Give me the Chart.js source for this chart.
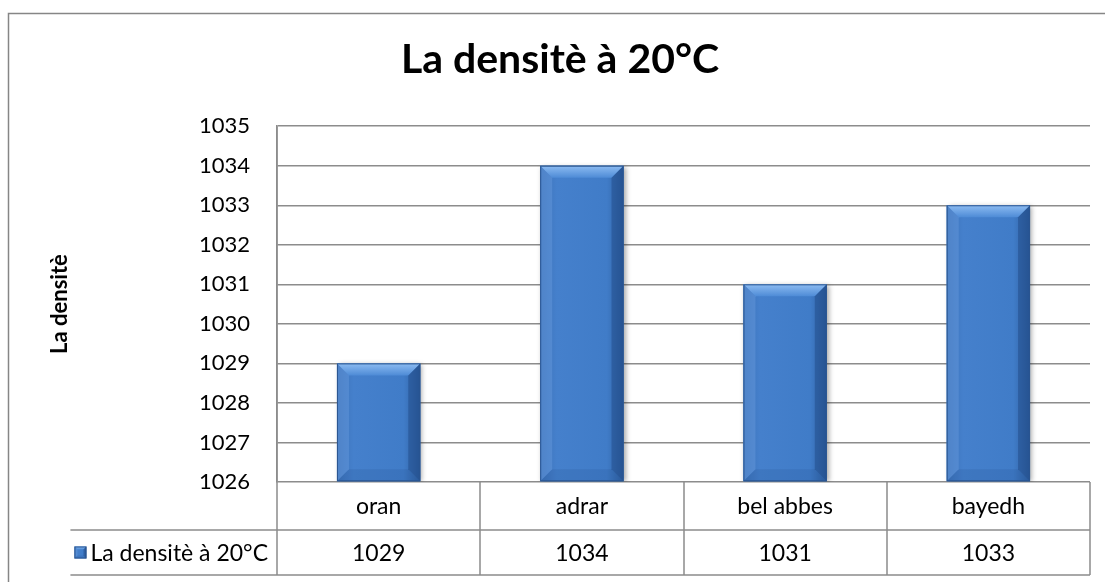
<!DOCTYPE html>
<html>
<head>
<meta charset="utf-8">
<script src="https://cdn.jsdelivr.net/npm/chart.js@4.4.0/dist/chart.umd.min.js"></script>
<style>
  html, body { margin: 0; padding: 0; background: #fff; }
  #wrap { width: 1105px; height: 582px; position: relative; }
</style>
</head>
<body>
<div id="wrap"><canvas id="chart" width="1105" height="582"></canvas></div>
<script>
const chartTitle = 'La densitè à 20°C';
const yAxisTitle = 'La densitè';
const seriesName = 'La densitè à 20°C';
const categories = ['oran', 'adrar', 'bel abbes', 'bayedh'];
const densityValues = [1029, 1034, 1031, 1033];
const yMin = 1026;
const yMax = 1035;
const yStep = 1;

const FONT = 'Lato, "Open Sans", sans-serif';
const GRID = '#8c8c8c';

function barPaint(ctx, left, top, right, bottom, bevel) {
    const body = ctx.createLinearGradient(left, 0, right, 0);
    body.addColorStop(0, '#3b71b8');
    body.addColorStop(0.2, '#4580cc');
    body.addColorStop(0.8, '#407cc8');
    body.addColorStop(1, '#2d5e9f');
    ctx.fillStyle = body;
    ctx.fillRect(left, top, right - left, bottom - top);

    const b = Math.min(bevel, (right - left) / 2, (bottom - top) / 2);
    // top bevel
    const tg = ctx.createLinearGradient(0, top, 0, top + b);
    tg.addColorStop(0, '#8dbcf2');
    tg.addColorStop(1, '#4e8bd6');
    ctx.fillStyle = tg;
    ctx.beginPath();
    ctx.moveTo(left, top); ctx.lineTo(right, top);
    ctx.lineTo(right - b, top + b); ctx.lineTo(left + b, top + b);
    ctx.closePath(); ctx.fill();
    // left bevel
    ctx.fillStyle = 'rgba(110,160,225,0.4)';
    ctx.beginPath();
    ctx.moveTo(left, top); ctx.lineTo(left + b, top + b);
    ctx.lineTo(left + b, bottom - b); ctx.lineTo(left, bottom);
    ctx.closePath(); ctx.fill();
    // right bevel
    ctx.fillStyle = 'rgba(30,70,130,0.45)';
    ctx.beginPath();
    ctx.moveTo(right, top); ctx.lineTo(right - b, top + b);
    ctx.lineTo(right - b, bottom - b); ctx.lineTo(right, bottom);
    ctx.closePath(); ctx.fill();
    // bottom bevel
    ctx.fillStyle = 'rgba(30,70,130,0.15)';
    ctx.beginPath();
    ctx.moveTo(left, bottom); ctx.lineTo(left + b, bottom - b);
    ctx.lineTo(right - b, bottom - b); ctx.lineTo(right, bottom);
    ctx.closePath(); ctx.fill();

    ctx.strokeStyle = '#2a5590';
    ctx.lineWidth = 1;
    ctx.strokeRect(left + 0.5, top + 0.5, right - left - 1, bottom - top - 1);
}

const barLook = {
    id: 'barLook',
    beforeDatasetsDraw(chart) {
        const ctx = chart.ctx;
        ctx.save();
        ctx.shadowColor = 'rgba(0,0,0,0.35)';
        ctx.shadowBlur = 5;
        ctx.shadowOffsetX = 2;
        ctx.shadowOffsetY = 1;
    },
    afterDatasetsDraw(chart) {
        const ctx = chart.ctx;
        const area = chart.chartArea;
        ctx.restore();
        ctx.save();
        chart.getDatasetMeta(0).data.forEach(el => {
            const left = el.x - el.width / 2;
            const right = el.x + el.width / 2;
            barPaint(ctx, left, el.y, right, Math.min(el.base, area.bottom), 12);
        });
        ctx.restore();
    }
};

const dataTable = {
    id: 'dataTable',
    afterDraw(chart) {
        const ctx = chart.ctx;
        const area = chart.chartArea;
        const xs = chart.scales.x;
        const colW = area.width / categories.length;
        const row1 = area.bottom + 48;
        const row2 = area.bottom + 93;

        ctx.save();
        // outer frame of the chart object
        ctx.strokeStyle = '#868686';
        ctx.lineWidth = 1.5;
        ctx.beginPath();
        ctx.moveTo(8.5, chart.height);
        ctx.lineTo(8.5, 13.5);
        ctx.lineTo(chart.width, 13.5);
        ctx.stroke();

        ctx.font = '23px ' + FONT;
        ctx.textBaseline = 'middle';

        // legend cell
        const txtRight = area.left - 9;
        const txtW = ctx.measureText(seriesName).width;
        const keyS = 12;
        const keyL = txtRight - txtW - keyS - 4;
        const cellL = keyL - 4;
        const midV = (row1 + row2) / 2;
        barPaint(ctx, keyL, midV - keyS / 2, keyL + keyS, midV + keyS / 2, 3);
        ctx.fillStyle = '#000';
        ctx.textAlign = 'right';
        ctx.fillText(seriesName, txtRight, midV + 1);

        // grid of the table
        ctx.strokeStyle = GRID;
        ctx.lineWidth = 1.5;
        ctx.beginPath();
        ctx.moveTo(area.left, area.top);
        ctx.lineTo(area.left, row2);
        ctx.moveTo(cellL, row1); ctx.lineTo(area.right, row1);
        ctx.moveTo(cellL, row2); ctx.lineTo(area.right, row2);
        categories.forEach((c, i) => {
            const xr = xs.getPixelForValue(i) + colW / 2;
            ctx.moveTo(Math.round(xr), area.bottom);
            ctx.lineTo(Math.round(xr), row2);
        });
        ctx.stroke();

        ctx.fillStyle = '#000';
        ctx.textAlign = 'center';
        categories.forEach((c, i) => {
            const xc = xs.getPixelForValue(i);
            ctx.fillText(c, xc, (area.bottom + row1) / 2 + 1);
            ctx.fillText(String(densityValues[i]), xc, midV + 1);
        });
        ctx.restore();
    }
};

new Chart(document.getElementById('chart'), {
    type: 'bar',
    data: {
        labels: categories,
        datasets: [{
            label: seriesName,
            data: densityValues,
            base: yMin,
            backgroundColor: '#407cc8',
            borderWidth: 0,
            categoryPercentage: 1,
            barPercentage: 0.41
        }]
    },
    options: {
        responsive: false,
        animation: false,
        events: [],
        layout: { padding: { top: 13, right: 15, bottom: 100, left: 30 } },
        plugins: {
            legend: { display: false },
            tooltip: { enabled: false },
            title: {
                display: true,
                text: chartTitle,
                color: '#000',
                font: { family: FONT, size: 41, weight: 'bold', lineHeight: 1.2 },
                padding: { top: 22, bottom: 42 }
            }
        },
        scales: {
            x: {
                display: false
            },
            y: {
                min: yMin,
                max: yMax,
                afterFit(scale) { scale.width = 247; },
                ticks: {
                    stepSize: yStep,
                    color: '#000',
                    padding: 27,
                    font: { family: FONT, size: 22 },
                    callback: v => String(v)
                },
                grid: { color: GRID, lineWidth: 1.5, drawTicks: false },
                border: { display: true, color: GRID, width: 1.5 },
                title: {
                    display: true,
                    text: yAxisTitle,
                    color: '#000',
                    font: { family: FONT, size: 22, weight: 'bold' },
                    padding: { top: 17, bottom: 0 }
                }
            }
        }
    },
    plugins: [barLook, dataTable]
});
</script>
</body>
</html>
